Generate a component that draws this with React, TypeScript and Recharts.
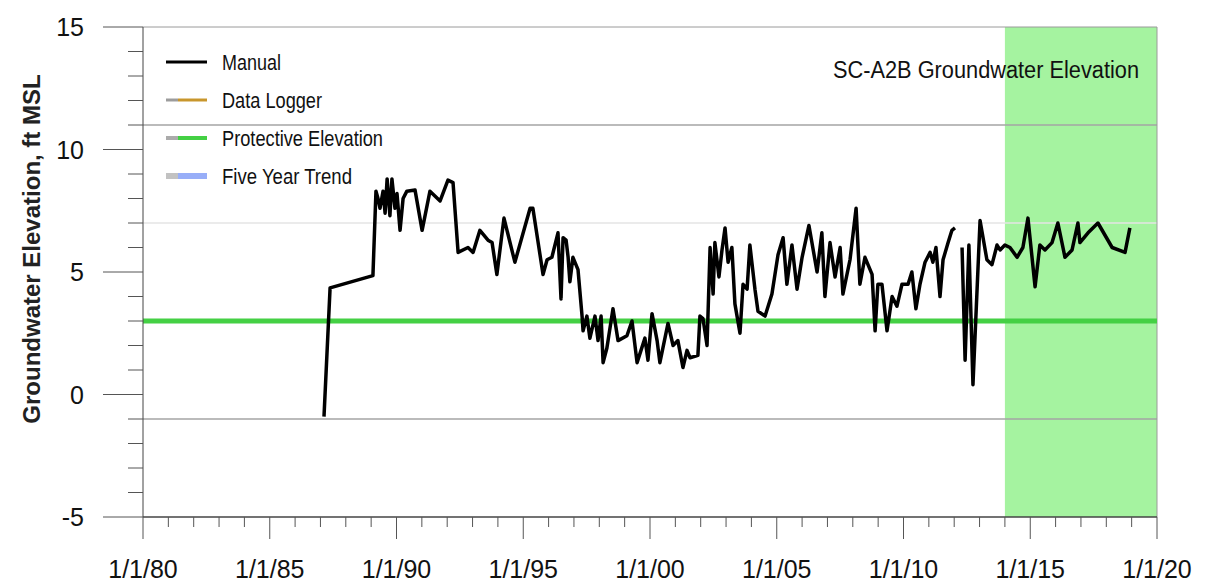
import React from 'react';
import { LineChart, Line, XAxis, YAxis, ReferenceLine, ReferenceArea } from 'recharts';

// manual water level readings (decimal year, ft MSL); null = gap in record
const manualDates = [
  1987.14, 1987.38, 1989.07, 1989.19, 1989.27, 1989.35, 1989.47, 1989.55, 1989.63, 1989.74,
  1989.82, 1989.94, 1990.02, 1990.14, 1990.26, 1990.41, 1990.73, 1991.01, 1991.32, 1991.72,
  1992.03, 1992.23, 1992.43, 1992.82, 1993.02, 1993.29, 1993.61, 1993.77, 1993.96, 1994.24,
  1994.67, 1995.27, 1995.38, 1995.78, 1995.94, 1996.13, 1996.37, 1996.49, 1996.57, 1996.69,
  1996.77, 1996.84, 1996.96, 1997.16, 1997.32, 1997.36, 1997.51, 1997.63, 1997.83, 1997.95,
  1998.07, 1998.15, 1998.3, 1998.54, 1998.74, 1999.09, 1999.29, 1999.49, 1999.8, 1999.92,
  2000.08, 2000.28, 2000.39, 2000.71, 2000.91, 2001.1, 2001.3, 2001.46, 2001.58, 2001.89,
  2001.97, 2002.09, 2002.25, 2002.37, 2002.49, 2002.56, 2002.72, 2002.84, 2002.96, 2003.08,
  2003.23, 2003.35, 2003.55, 2003.67, 2003.83, 2003.94, 2004.14, 2004.26, 2004.54, 2004.81,
  2005.05, 2005.25, 2005.4, 2005.6, 2005.8, 2006.0, 2006.27, 2006.59, 2006.78, 2006.9,
  2007.1, 2007.3, 2007.5, 2007.61, 2007.89, 2008.13, 2008.28, 2008.48, 2008.76, 2008.88,
  2008.99, 2009.15, 2009.35, 2009.55, 2009.74, 2009.94, 2010.18, 2010.33, 2010.49, 2010.65,
  2010.85, 2011.05, 2011.16, 2011.28, 2011.44, 2011.56, 2011.76, 2011.91, 2012.03, 2012.17,
  2012.31, 2012.43, 2012.58, 2012.74, 2013.02, 2013.29, 2013.49, 2013.69, 2013.81, 2014.0,
  2014.2, 2014.48, 2014.71, 2014.91, 2015.19, 2015.38, 2015.58, 2015.86, 2016.09, 2016.37,
  2016.65, 2016.88, 2016.96, 2017.28, 2017.67, 2018.23, 2018.74, 2018.93,
];
const manualLevels = [
  -0.9, 4.35, 4.85, 8.3, 8.0, 7.6, 8.3, 7.4, 8.8, 7.3,
  8.8, 7.6, 8.2, 6.7, 8.0, 8.3, 8.35, 6.7, 8.3, 7.9,
  8.75, 8.65, 5.8, 6.0, 5.8, 6.7, 6.3, 6.2, 4.9, 7.2,
  5.4, 7.6, 7.6, 4.9, 5.5, 5.6, 6.6, 3.9, 6.4, 6.3,
  5.6, 4.6, 5.6, 5.1, 3.2, 2.6, 3.2, 2.3, 3.2, 2.2,
  3.2, 1.3, 1.9, 3.5, 2.2, 2.4, 3.0, 1.3, 2.3, 1.4,
  3.3, 2.2, 1.3, 2.9, 2.0, 2.2, 1.1, 1.8, 1.5, 1.6,
  3.2, 3.1, 2.0, 6.0, 4.1, 6.2, 4.8, 5.9, 6.8, 5.4,
  6.0, 3.7, 2.5, 4.5, 4.3, 6.1, 4.3, 3.4, 3.2, 4.1,
  5.7, 6.4, 4.5, 6.1, 4.3, 5.6, 6.9, 5.0, 6.6, 4.0,
  6.2, 4.8, 6.0, 4.1, 5.5, 7.6, 4.5, 5.6, 4.9, 2.6,
  4.5, 4.5, 2.6, 4.0, 3.6, 4.5, 4.5, 5.0, 3.5, 4.5,
  5.4, 5.8, 5.4, 6.0, 4.0, 5.5, 6.2, 6.7, 6.8, null,
  6.0, 1.4, 6.1, 0.4, 7.1, 5.5, 5.3, 6.1, 5.9, 6.1,
  6.0, 5.6, 6.0, 7.2, 4.4, 6.1, 5.9, 6.2, 7.0, 5.6,
  5.9, 7.0, 6.2, 6.6, 7.0, 6.0, 5.8, 6.8,
];

const xTicks = Array.from({ length: 41 }, (_, i) => 1980 + i);
const yTicks = Array.from({ length: 21 }, (_, i) => -5 + i);
const protectiveElevation = 3;
const boundLevels = [11, -1];
const faintLevel = 7;
const trendWindow = [2014, 2020];

const legendItems = [
  { label: 'Manual', color: '#000000', lead: '#000000', width: 3, len: 59 },
  { label: 'Data Logger', color: '#c8962c', lead: '#9c9c9c', width: 3, len: 100 },
  { label: 'Protective Elevation', color: '#44d044', lead: '#ababab', width: 4, len: 161 },
  { label: 'Five Year Trend', color: '#98aef8', lead: '#c2c2c2', width: 6, len: 130 },
];

const chartData = manualDates.map((d, i) => ({ date: d, manual: manualLevels[i] }));

const FONT = '"Liberation Sans", Arial, sans-serif';

const XTick = (props: any) => {
  const { x, y, payload } = props;
  const v = payload.value as number;
  const major = v % 5 === 0;
  const yy = String(v % 100).padStart(2, '0');
  return (
    <g>
      <line x1={x} x2={x} y1={y} y2={y + (major ? 22 : 10)} stroke="#555" strokeWidth={1} />
      {major && (
        <text x={x} y={y + 61} textAnchor="middle" fontSize={25} fill="#111" fontFamily={FONT}>
          {`1/1/${yy}`}
        </text>
      )}
    </g>
  );
};

const YTick = (props: any) => {
  const { x, y, payload } = props;
  const v = payload.value as number;
  const major = v % 5 === 0;
  return (
    <g>
      <line x1={x - (major ? 40 : 15)} x2={x} y1={y} y2={y} stroke="#555" strokeWidth={1} />
      {major && (
        <text x={x - 59} y={y} dy="0.36em" textAnchor="end" fontSize={25} fill="#111" fontFamily={FONT}>
          {v}
        </text>
      )}
    </g>
  );
};

const App: React.FC = () => {
  return (
    <div style={{ position: 'absolute', left: 0, top: 0, width: 1208, height: 583, background: '#fff' }}>
      <LineChart width={1208} height={583} data={chartData} margin={{ top: 27, right: 51, left: 0, bottom: 0 }}>
        <XAxis
          dataKey="date"
          type="number"
          domain={[1980, 2020]}
          ticks={xTicks}
          interval={0}
          tick={<XTick />}
          tickSize={0}
          tickMargin={0}
          tickLine={false}
          axisLine={{ stroke: '#444', strokeWidth: 1.5 }}
          height={66}
          allowDataOverflow
        />
        <YAxis
          type="number"
          domain={[-5, 15]}
          ticks={yTicks}
          interval={0}
          tick={<YTick />}
          tickSize={0}
          tickMargin={0}
          tickLine={false}
          axisLine={{ stroke: '#444', strokeWidth: 1 }}
          width={143}
          allowDataOverflow
        />
        <ReferenceArea x1={trendWindow[0]} x2={trendWindow[1]} y1={-5} y2={15} fill="#a5f3a0" fillOpacity={1} stroke="none" />
        <ReferenceLine y={faintLevel} stroke="#e4e4e4" strokeWidth={1.5} />
        {boundLevels.map((b) => (
          <ReferenceLine key={b} y={b} stroke="#a4a4a4" strokeWidth={1.5} />
        ))}
        <ReferenceLine y={15} stroke="#9a9a9a" strokeWidth={1} />
        <ReferenceLine x={2020} stroke="#9a9a9a" strokeWidth={1} />
        <ReferenceLine y={protectiveElevation} stroke="#44d044" strokeWidth={5} />
        <Line
          dataKey="manual"
          type="linear"
          stroke="#000"
          strokeWidth={3.5}
          dot={false}
          connectNulls={false}
          strokeLinejoin="round"
          isAnimationActive={false}
        />
      </LineChart>

      <svg
        width={1208}
        height={583}
        style={{ position: 'absolute', left: 0, top: 0, pointerEvents: 'none' }}
        fontFamily={FONT}
      >
        <text
          transform="translate(31,249) rotate(-90)"
          textAnchor="middle"
          dominantBaseline="central"
          fontWeight="bold"
          fontSize={24}
          fill="#222"
        >
          Groundwater Elevation, ft MSL
        </text>
        <text x={1139} y={78} textAnchor="end" fontSize={23} fill="#111" textLength={306} lengthAdjust="spacingAndGlyphs">
          SC-A2B Groundwater Elevation
        </text>
        {legendItems.map((it, i) => {
          const cy = 62 + i * 38;
          return (
            <g key={it.label}>
              <line x1={166} x2={178} y1={cy} y2={cy} stroke={it.lead} strokeWidth={it.width} />
              <line x1={178} x2={207} y1={cy} y2={cy} stroke={it.color} strokeWidth={it.width} />
              <text x={222} y={cy + 8} fontSize={22} fill="#111" textLength={it.len} lengthAdjust="spacingAndGlyphs">
                {it.label}
              </text>
            </g>
          );
        })}
      </svg>
    </div>
  );
};

export default App;
